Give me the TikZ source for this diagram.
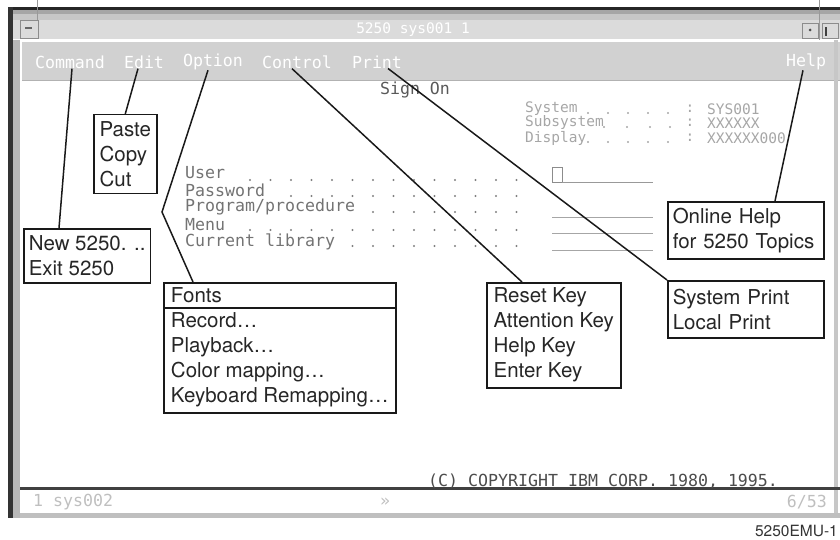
\documentclass[tikz,border=0pt]{standalone}
\usepackage{fontspec}
\setmainfont{TeX Gyre Heros}
\newfontfamily\scrfont{DejaVu Sans Mono}

\begin{document}
\begin{tikzpicture}[x=1pt, y=-1pt,
    menubox/.style={draw=black!90, line width=1.5pt, fill=white, anchor=north west,
      align=left, inner xsep=5pt, inner ysep=0pt, text=black!85,
      font=\fontsize{20.5}{25}\selectfont},
    callout/.style={line width=1.5pt, draw=black!90},
    scrtext/.style={font=\scrfont\fontsize{16.6}{18}\selectfont, text=black!55, inner sep=0pt},
    menutext/.style={scrtext, text=white},
    systext/.style={font=\scrfont\fontsize{14.5}{16}\selectfont, text=black!35, inner sep=0pt, anchor=west}]

  \useasboundingbox (0,0) rectangle (840,540);

  % Draw the window frame, title bar and menu bar
  \fill[black!35] (10,10) rectangle (840,14);
  \fill[black!22] (10,14) rectangle (840,20);
  \fill[black!14] (10,20) rectangle (840,39);
  \fill[black!85] (8,7) rectangle (840,10);
  \fill[black!18] (22,42) rectangle (840,80);
  \draw[black!30] (22,80) -- (840,80);
  \fill[black!80] (8,7) rectangle (13,518);
  \fill[black!28] (13,40) rectangle (20,518);
  \fill[black!22] (834,40) rectangle (838,518);
  \fill[black!75] (20,487) rectangle (840,490);
  \fill[black!25] (20,513) rectangle (840,518);
  \draw[black!40] (37,0) -- (37,20);
  \draw[black!40] (819,0) -- (819,40);

  % Title bar buttons and title
  \draw[black!45] (20,20) rectangle (38,38);
  \draw[black!60, line width=1.5pt] (25,28) -- (32,28);
  \draw[black!45] (802,23) rectangle (818,38);
  \fill[black!70] (810,30) circle (1.5pt);
  \draw[black!45] (822,23) rectangle (838,38);
  \draw[black!75, line width=1.5pt] (826,36) -- (826,27);
  \node[systext, anchor=center, text=white] (title) at (413,30) {5250 sys001 1};

  % Menu bar items
  \node[menutext] (cmd) at (70,62) {Command};
  \node[menutext] (edit) at (144,62) {Edit};
  \node[menutext] (opt) at (213,62) {Option};
  \node[menutext] (ctl) at (297,62) {Control};
  \node[menutext] (prt) at (377,62) {Print};
  \node[menutext] (hlp) at (806,62) {Help};

  % Sign On screen
  \node[scrtext, text=black!65] (signon) at (415,90) {Sign On};
  \node[systext] (sysl) at (525,109) {System};
  \node[systext] (subl) at (525,123) {Subsystem};
  \node[systext] (dspl) at (525,138) {Display};
  \foreach \x in {588,608,628,648,668} {
    \fill[black!35] (\x,113) circle (1.1pt);
    \fill[black!35] (\x,142) circle (1.1pt);
  }
  \foreach \x in {604,627,650,670}
    \fill[black!35] (\x,127) circle (1.1pt);
  \foreach \y/\n in {109/a,123/b,138/c}
    \node[systext, anchor=center] (colon\n) at (690,\y) {:};
  \node[systext] (sysv) at (707,109) {SYS001};
  \node[systext] (subv) at (707,123) {XXXXXX};
  \node[systext] (dspv) at (707,138) {XXXXXX000};

  \node[scrtext, anchor=west] (user) at (185,173) {User};
  \node[scrtext, anchor=west] (passwd) at (185,190) {Password};
  \node[scrtext, anchor=west] (prog) at (185,207) {Program/procedure};
  \node[scrtext, anchor=west] (menu) at (185,225) {Menu};
  \node[scrtext, anchor=west] (curlib) at (185,242) {Current library};
  \foreach \y/\k in {180/0,196/2,212/6,230/0,246/5}
    \foreach \i in {\k,...,13}
      \fill[black!50] (250+20.5*\i,\y) circle (1.1pt);

  % Entry fields
  \draw[black!45, line width=0.8pt] (552,167) rectangle (562,182);
  \draw[black!40, line width=0.8pt] (562,182) -- (653,182);
  \foreach \y in {217,233,250}
    \draw[black!35, line width=0.8pt] (552,\y) -- (653,\y);

  \node[scrtext, text=black!70, anchor=west] (copyr) at (428,481) {(C) COPYRIGHT IBM CORP. 1980, 1995.};

  % Status line
  \node[scrtext, text=black!25, anchor=west] (sess) at (33,502) {1 sys002};
  \node[scrtext, text=black!25] (more) at (385,502) {»};
  \node[scrtext, text=black!25, anchor=east] (pos) at (827,502) {6/53};

  % Pull-down menu callouts
  \node[menubox, minimum width=63pt, minimum height=79pt] (paste) at (93,114) {Paste\\Copy\\Cut};
  \node[menubox, minimum width=123pt, minimum height=54pt] (newexit) at (23,228) {New 5250. ..\\Exit 5250};
  \node[menubox, minimum width=232pt, minimum height=130pt] (fonts) at (163,282)
    {Fonts\\Record…\\Playback…\\Color mapping…\\Keyboard Remapping…};
  \node[menubox, minimum width=134pt, minimum height=105pt] (keys) at (486,282)
    {Reset Key\\Attention Key\\Help Key\\Enter Key};
  \node[menubox, text width=146pt, minimum height=57pt] (prints) at (667,280) {System Print\\Local Print};
  \node[menubox, text width=146pt, minimum height=57pt] (onlinehelp) at (667,201) {Online Help\\for 5250 Topics};
  \draw[line width=1.2pt, black!90] ([yshift=-26pt]fonts.north west) -- ([yshift=-26pt]fonts.north east);

  % Connect menu items to their callouts
  \coordinate (optbend) at (162,212);
  \draw[callout] ([xshift=2pt]cmd.south) -- ([xshift=36pt]newexit.north west);
  \draw[callout] ([xshift=-6pt]edit.south) -- (paste.north);
  \draw[callout] ([xshift=-5pt]opt.south) -- (optbend) -- ([xshift=30pt]fonts.north west);
  \draw[callout] ([xshift=-5pt]ctl.south) -- ([xshift=36pt]keys.north west);
  \draw[callout] ([xshift=11pt]prt.south) -- (prints.north west);
  \draw[callout] ([xshift=-3pt]hlp.south) -- ([xshift=108pt]onlinehelp.north west);

  \node[font=\fontsize{15.5}{18}\selectfont, anchor=east, inner sep=0pt, text=black!80] (figid) at (838,531) {5250EMU-1};

\end{tikzpicture}
\end{document}
